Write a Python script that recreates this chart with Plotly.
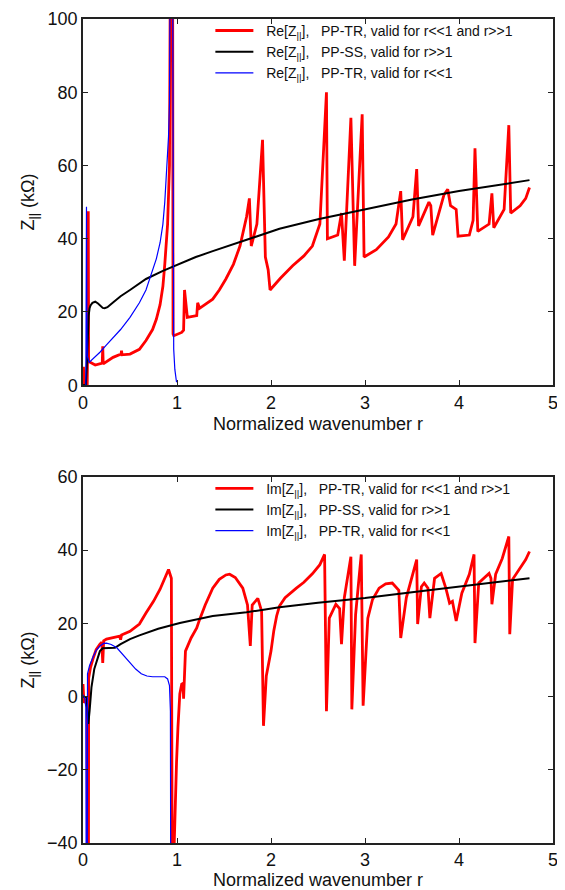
import plotly.graph_objects as go

# ---- Re[Z||] panel (top) ----
re_tr_r = [0.0, 0.005, 0.012, 0.045, 0.052, 0.056, 0.06, 0.13, 0.205, 0.21, 0.215, 0.32,
           0.405, 0.41, 0.415, 0.5, 0.6, 0.67, 0.74, 0.78, 0.82, 0.85, 0.87, 0.89, 0.9,
           0.91, 0.92, 0.935, 0.952, 0.958, 0.966, 1.05, 1.07, 1.08, 1.11, 1.21, 1.22,
           1.24, 1.30, 1.38, 1.45, 1.52, 1.60, 1.67, 1.74, 1.77, 1.79, 1.85, 1.91, 1.94,
           1.97, 1.99, 2.1, 2.23, 2.35, 2.44, 2.52, 2.59, 2.60, 2.71, 2.75, 2.78, 2.85,
           2.89, 2.97, 2.99, 3.12, 3.25, 3.33, 3.38, 3.40, 3.51, 3.55, 3.57, 3.68, 3.70,
           3.72, 3.84, 3.88, 3.91, 3.97, 3.99, 4.11, 4.15, 4.17, 4.20, 4.32, 4.35, 4.37,
           4.48, 4.53, 4.55, 4.65, 4.71, 4.75]
re_tr_v = [0, 5, 0, 0, 20, 47.5, 6.5, 5.5, 6, 10.6, 5.8, 7.6,
           8.5, 9.4, 8.3, 8.5, 9.8, 12.2, 15.2, 18, 22, 27, 33, 40, 44,
           52, 60, 150, 150, 14, 13.5, 14.4, 15, 26, 18.5, 19, 22.5,
           21, 22, 23.5, 26, 29, 33, 38, 46, 51, 38, 44, 67, 35,
           31.5, 26, 29.2, 32.6, 35.3, 38, 44, 80, 40, 41, 47, 34, 73,
           32.6, 74, 35, 37, 40.5, 44, 53, 39.7, 46, 59, 43.5, 50, 49,
           41, 52, 53.5, 49, 48, 40.7, 41, 45, 64.7, 42, 44, 52.4, 43,
           48, 71, 47, 49, 51, 54]

re_ss_r = [0.0, 0.03, 0.04, 0.045, 0.05, 0.06, 0.07, 0.08, 0.1, 0.13, 0.16, 0.18, 0.21,
           0.23, 0.26, 0.3, 0.35, 0.4, 0.5, 0.67, 0.85, 1.03, 1.2, 1.38, 1.74, 2.09, 2.5,
           3.0, 3.5, 4.0, 4.4, 4.75]
re_ss_v = [0, 0, 5, 10, 15, 19, 21, 21.8, 22.5, 22.8, 22.3, 21.8, 21.1,
           21, 21.3, 22.2, 23.3, 24.3, 26, 29, 31.2, 33.2, 35, 36.6, 39.7, 42.7, 45.3,
           48, 50.7, 53, 54.7, 56]

re_lo_r = [0.03, 0.037, 0.041, 0.046, 0.065, 0.1, 0.18, 0.25, 0.32, 0.4, 0.5, 0.6, 0.67,
           0.74, 0.78, 0.82, 0.85, 0.87, 0.89, 0.91, 0.92, 0.935, 0.95, 0.958, 0.965,
           0.977, 0.995]
re_lo_v = [0, 48.7, 20, 8, 6.2, 7, 9, 11, 13, 15.2, 18.5, 22.5, 26,
           31.2, 34.5, 38.9, 44, 50, 58, 68, 77, 150, 150, 20, 9.8,
           4.3, 0.8]

# ---- Im[Z||] panel (bottom) ----
im_tr_r = [0.0, 0.005, 0.01, 0.045, 0.05, 0.055, 0.06, 0.08, 0.11, 0.14, 0.18, 0.2, 0.21,
           0.22, 0.25, 0.39, 0.4, 0.41, 0.5, 0.6, 0.67, 0.75, 0.82, 0.88, 0.91, 0.94,
           0.955, 0.96, 0.965, 0.98, 0.995, 1.01, 1.03, 1.05, 1.065, 1.07, 1.08, 1.09,
           1.15, 1.21, 1.24, 1.3, 1.38, 1.45, 1.52, 1.56, 1.62, 1.67, 1.70, 1.75, 1.78,
           1.80, 1.86, 1.90, 1.92, 1.95, 2.0, 2.03, 2.06, 2.09, 2.15, 2.27, 2.35, 2.44,
           2.52, 2.57, 2.59, 2.62, 2.69, 2.73, 2.75, 2.78, 2.85, 2.86, 2.90, 2.96, 2.98,
           3.03, 3.08, 3.15, 3.22, 3.29, 3.36, 3.38, 3.44, 3.55, 3.56, 3.60, 3.63, 3.67,
           3.69, 3.74, 3.81, 3.86, 3.90, 3.93, 3.97, 4.03, 4.11, 4.16, 4.17, 4.21, 4.32,
           4.34, 4.35, 4.39, 4.46, 4.53, 4.54, 4.57, 4.64, 4.71, 4.75]
im_tr_v = [3.4, 0, -1.7, -0.5, -150, -150, 5, 8, 10.6, 12.8, 14.3, 14.8, 9.2,
           15.2, 15.7, 16.5, 15.5, 16.8, 17.8, 19.8, 22.8, 26, 29.3, 32.6, 34.7, 32.3,
           -150, -150, -45, -28, -18, -8.5, 0.7, 3.4, 3.6, -0.6, 8, 12.4,
           16, 18.7, 21, 25, 29.6, 32, 33.2, 33.4, 32.5, 30.8, 29.6, 25, 13.8,
           25, 26.8, 23.3, -8, 5.6, 12.4, 18, 22, 24.7, 27, 29.6, 31.2, 33.5,
           36, 38.8, -4, 21.4, 25.2, 24, 14.3, 27, 38.2, -3.5, 22.4, 38.8, -2.5,
           21.4, 26.5, 29.6, 30.8, 31, 29, 16, 27, 37.4, 19.8, 30, 31, 29.6,
           21.4, 32.3, 33.6, 29.6, 25.5, 26, 20.6, 28.2, 33.4, 38.8, 14.6, 31, 33.6,
           32.3, 25.2, 33.4, 37.7, 43.7, 17, 32, 34.7, 37.4, 39.6]

im_ss_r = [0.0, 0.04, 0.048, 0.056, 0.07, 0.09, 0.12, 0.145, 0.18, 0.21, 0.34, 0.4, 0.5,
           0.6, 0.67, 0.8, 1.03, 1.2, 1.38, 1.74, 2.09, 2.5, 3.0, 3.5, 4.0, 4.4, 4.75]
im_ss_v = [0, -0.3, -5, -7.5, -4, 2.5, 7.5, 9.8, 12.4, 13.2, 13.3, 14.3, 15.7,
           16.7, 17.3, 18.5, 20.1, 21, 22, 23, 24.4, 25.6, 26.9, 28.5, 30, 31.3, 32.3]

im_lo_r = [0.0, 0.02, 0.03, 0.035, 0.042, 0.048, 0.07, 0.11, 0.14, 0.18, 0.22, 0.25, 0.3,
           0.36, 0.43, 0.5, 0.56, 0.62, 0.68, 0.74, 0.87, 0.9, 0.92, 0.93, 0.94]
im_lo_v = [0.5, -0.5, -3, -150, -150, 6.2, 8.5, 11, 12.6, 13.8, 14.5, 14.6, 14.2,
           13.3, 11.3, 9.2, 7.5, 6.2, 5.6, 5.4, 5.4, 4.8, 3, -4, -150]

sp = "\u00a0\u00a0\u00a0"
lead = "\u00a0\u00a0"
Z = "Z<sub>||</sub>"
names_re = [lead + "Re[" + Z + "]," + sp + "PP-TR, valid for r&lt;&lt;1 and r&gt;&gt;1",
            lead + "Re[" + Z + "]," + sp + "PP-SS, valid for r&gt;&gt;1",
            lead + "Re[" + Z + "]," + sp + "PP-TR, valid for r&lt;&lt;1"]
names_im = [lead + "Im[" + Z + "]," + sp + "PP-TR, valid for r&lt;&lt;1 and r&gt;&gt;1",
            lead + "Im[" + Z + "]," + sp + "PP-SS, valid for r&gt;&gt;1",
            lead + "Im[" + Z + "]," + sp + "PP-TR, valid for r&lt;&lt;1"]

colors = ["#ff0000", "#000000", "#0000ff"]
widths = [2.8, 2.0, 1.2]

fig = go.Figure()

top = [(re_tr_r, re_tr_v), (re_ss_r, re_ss_v), (re_lo_r, re_lo_v)]
bot = [(im_tr_r, im_tr_v), (im_ss_r, im_ss_v), (im_lo_r, im_lo_v)]

for i, (x, y) in enumerate(top):
    fig.add_trace(go.Scatter(x=x, y=y, mode="lines", name=names_re[i],
                             line=dict(color=colors[i], width=widths[i]),
                             xaxis="x", yaxis="y", legend="legend"))
for i, (x, y) in enumerate(bot):
    fig.add_trace(go.Scatter(x=x, y=y, mode="lines", name=names_im[i],
                             line=dict(color=colors[i], width=widths[i]),
                             xaxis="x2", yaxis="y2", legend="legend2"))

font = "Liberation Sans, Arial, sans-serif"
ax = dict(showline=True, linecolor="#222", linewidth=1.5, mirror="ticks",
          ticks="inside", ticklen=5, tickcolor="#222", tickwidth=1,
          showgrid=False, zeroline=False, automargin=False,
          tickfont=dict(size=18, color="#111"))

# page body adds an 8px offset, so the figure is 8px smaller than the window
fig.update_layout(
    width=557, height=882,
    margin=dict(l=75, r=12, t=7, b=47),
    plot_bgcolor="white", paper_bgcolor="white",
    font=dict(family=font, color="#111"),
    xaxis=dict(ax, domain=[0, 1], range=[0, 5], dtick=1, anchor="y",
               title=dict(text="Normalized wavenumber r", font=dict(size=18), standoff=6)),
    yaxis=dict(ax, domain=[0.5556, 1], range=[0, 100], dtick=20, anchor="x",
               title=dict(text=Z + " (k\u03a9)", font=dict(size=18), standoff=8)),
    xaxis2=dict(ax, domain=[0, 1], range=[0, 5], dtick=1, anchor="y2",
                title=dict(text="Normalized wavenumber r", font=dict(size=18), standoff=6)),
    yaxis2=dict(ax, domain=[0, 0.4444], range=[-40, 60], dtick=20, anchor="x2",
                title=dict(text=Z + " (k\u03a9)", font=dict(size=18), standoff=8)),
    legend=dict(x=0.271, y=1.005, xanchor="left", yanchor="top", bgcolor="rgba(0,0,0,0)",
                font=dict(size=14), tracegroupgap=0, itemwidth=38),
    legend2=dict(x=0.271, y=0.4494, xanchor="left", yanchor="top", bgcolor="rgba(0,0,0,0)",
                 font=dict(size=14), tracegroupgap=0, itemwidth=38),
)

fig.write_html("out.html")
